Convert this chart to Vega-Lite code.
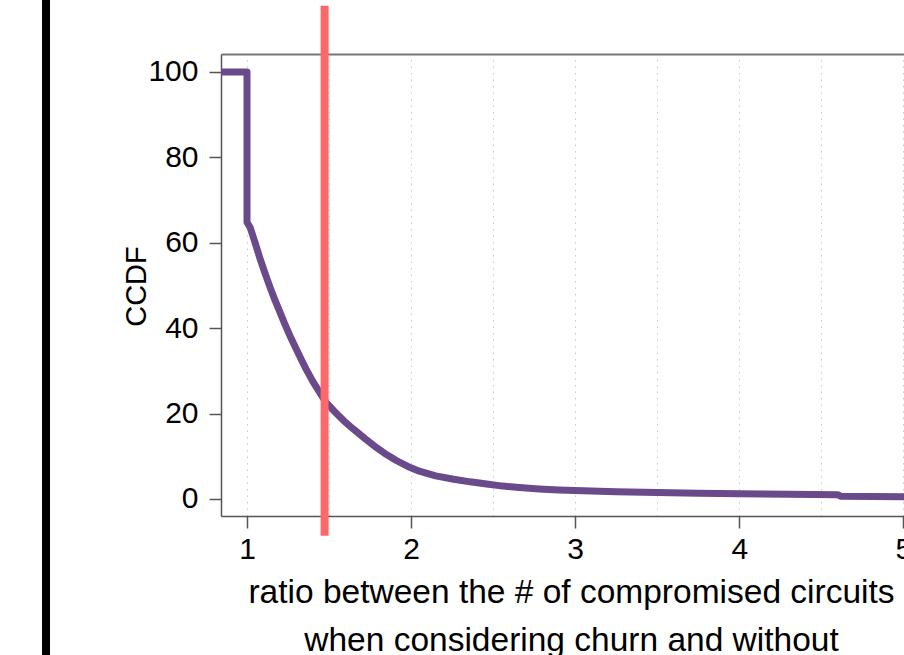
{
  "$schema": "https://vega.github.io/schema/vega-lite/v6.json",
  "autosize": {"type": "none"},
  "padding": {"left": 221, "top": 54, "right": 0, "bottom": 140},
  "width": 683,
  "height": 462,
  "background": "white",
  "config": {
    "view": {"stroke": null},
    "font": "Liberation Sans"
  },
  "resolve": {"axis": {"x": "independent", "y": "independent"}},
  "layer": [
    {
      "data": {"values": [
        {"i": 0, "ratio": 0.84, "ccdf": 100},
        {"i": 1, "ratio": 1.0, "ccdf": 100},
        {"i": 2, "ratio": 1.0, "ccdf": 64.8},
        {"i": 3, "ratio": 1.02, "ccdf": 63.5},
        {"i": 4, "ratio": 1.05, "ccdf": 59.9},
        {"i": 5, "ratio": 1.08, "ccdf": 56.2},
        {"i": 6, "ratio": 1.11, "ccdf": 52.8},
        {"i": 7, "ratio": 1.14, "ccdf": 49.6},
        {"i": 8, "ratio": 1.17, "ccdf": 46.6},
        {"i": 9, "ratio": 1.2, "ccdf": 43.8},
        {"i": 10, "ratio": 1.23, "ccdf": 41.0},
        {"i": 11, "ratio": 1.27, "ccdf": 37.5},
        {"i": 12, "ratio": 1.3, "ccdf": 35.1},
        {"i": 13, "ratio": 1.33, "ccdf": 32.7},
        {"i": 14, "ratio": 1.36, "ccdf": 30.4},
        {"i": 15, "ratio": 1.4, "ccdf": 27.6},
        {"i": 16, "ratio": 1.44, "ccdf": 25.1},
        {"i": 17, "ratio": 1.48, "ccdf": 22.7},
        {"i": 18, "ratio": 1.53, "ccdf": 20.6},
        {"i": 19, "ratio": 1.59, "ccdf": 18.3},
        {"i": 20, "ratio": 1.65, "ccdf": 16.3},
        {"i": 21, "ratio": 1.72, "ccdf": 14.1},
        {"i": 22, "ratio": 1.79, "ccdf": 12.0},
        {"i": 23, "ratio": 1.85, "ccdf": 10.4},
        {"i": 24, "ratio": 1.91, "ccdf": 9.0},
        {"i": 25, "ratio": 1.98, "ccdf": 7.6},
        {"i": 26, "ratio": 2.05, "ccdf": 6.5},
        {"i": 27, "ratio": 2.15, "ccdf": 5.4},
        {"i": 28, "ratio": 2.26, "ccdf": 4.6},
        {"i": 29, "ratio": 2.36, "ccdf": 4.0},
        {"i": 30, "ratio": 2.46, "ccdf": 3.5},
        {"i": 31, "ratio": 2.56, "ccdf": 3.0},
        {"i": 32, "ratio": 2.66, "ccdf": 2.7},
        {"i": 33, "ratio": 2.78, "ccdf": 2.35},
        {"i": 34, "ratio": 2.9, "ccdf": 2.1},
        {"i": 35, "ratio": 3.0, "ccdf": 1.95},
        {"i": 36, "ratio": 3.25, "ccdf": 1.7},
        {"i": 37, "ratio": 3.5, "ccdf": 1.5},
        {"i": 38, "ratio": 3.75, "ccdf": 1.35},
        {"i": 39, "ratio": 4.0, "ccdf": 1.2},
        {"i": 40, "ratio": 4.3, "ccdf": 1.1},
        {"i": 41, "ratio": 4.6, "ccdf": 1.0},
        {"i": 42, "ratio": 4.62, "ccdf": 0.6},
        {"i": 43, "ratio": 5.0, "ccdf": 0.5},
        {"i": 44, "ratio": 5.2, "ccdf": 0.45}
      ]},
      "mark": {"type": "line", "color": "#6a4a8b", "strokeWidth": 7, "clip": true, "strokeJoin": "round"},
      "encoding": {
        "x": {
          "field": "ratio", "type": "quantitative",
          "scale": {"domain": [0.8415, 5.004], "nice": false, "zero": false},
          "axis": {
            "orient": "bottom",
            "values": [1, 2, 3, 4, 5],
            "grid": false,
            "labelFlush": false,
            "labelOverlap": false,
            "domainColor": "#555",
            "domainWidth": 1.5,
            "tickColor": "#555",
            "tickWidth": 1.5,
            "tickSize": 12,
            "labelPadding": 6,
            "labelFont": "Liberation Sans",
            "labelFontSize": 30,
            "labelColor": "#000",
            "title": ["ratio between the # of compromised circuits", "when considering churn and without"],
            "titleFont": "Liberation Sans",
            "titleFontSize": 33.5,
            "titleFontWeight": "normal",
            "titleColor": "#000",
            "titleLineHeight": 48,
            "titleBaseline": "alphabetic",
            "titleAlign": "center",
            "titleX": 350,
            "titleY": 86
          }
        },
        "y": {
          "field": "ccdf", "type": "quantitative",
          "scale": {"domain": [-4.0, 104.2], "nice": false, "zero": false},
          "axis": {
            "values": [0, 20, 40, 60, 80, 100],
            "grid": false,
            "domainColor": "#555",
            "domainWidth": 1.5,
            "tickColor": "#555",
            "tickWidth": 1.5,
            "tickSize": 12,
            "labelPadding": 11,
            "labelFont": "Liberation Sans",
            "labelFontSize": 30,
            "labelColor": "#000",
            "title": "CCDF",
            "titleFont": "Liberation Sans",
            "titleFontSize": 29,
            "titleFontWeight": "normal",
            "titleColor": "#000",
            "titleBaseline": "alphabetic",
            "titleAlign": "center",
            "titleX": -76,
            "titleY": 232
          }
        },
        "order": {"field": "i", "type": "quantitative"}
      }
    },
    {
      "data": {"values": [{"ratio": 1.473, "top": 115.5, "bottom": -8.6}]},
      "mark": {"type": "rule", "color": "#ff6868", "strokeWidth": 8, "clip": false},
      "encoding": {
        "x": {
          "field": "ratio", "type": "quantitative",
          "axis": {
            "orient": "top",
            "values": [1, 1.5, 2, 2.5, 3, 3.5, 4, 4.5, 5],
            "grid": true,
            "gridColor": "#c8c8c8",
            "gridDash": [1.5, 5],
            "gridWidth": 1,
            "ticks": false,
            "labels": false,
            "domainColor": "#777",
            "domainWidth": 2,
            "title": null
          }
        },
        "y": {"field": "top", "type": "quantitative", "axis": null},
        "y2": {"field": "bottom"}
      }
    },
    {
      "data": {"values": [{"ratio": -0.225, "top": 117, "bottom": -37}]},
      "mark": {"type": "rule", "color": "#000", "strokeWidth": 8, "clip": false},
      "encoding": {
        "x": {"field": "ratio", "type": "quantitative", "axis": null},
        "y": {"field": "top", "type": "quantitative", "axis": null},
        "y2": {"field": "bottom"}
      }
    }
  ]
}
